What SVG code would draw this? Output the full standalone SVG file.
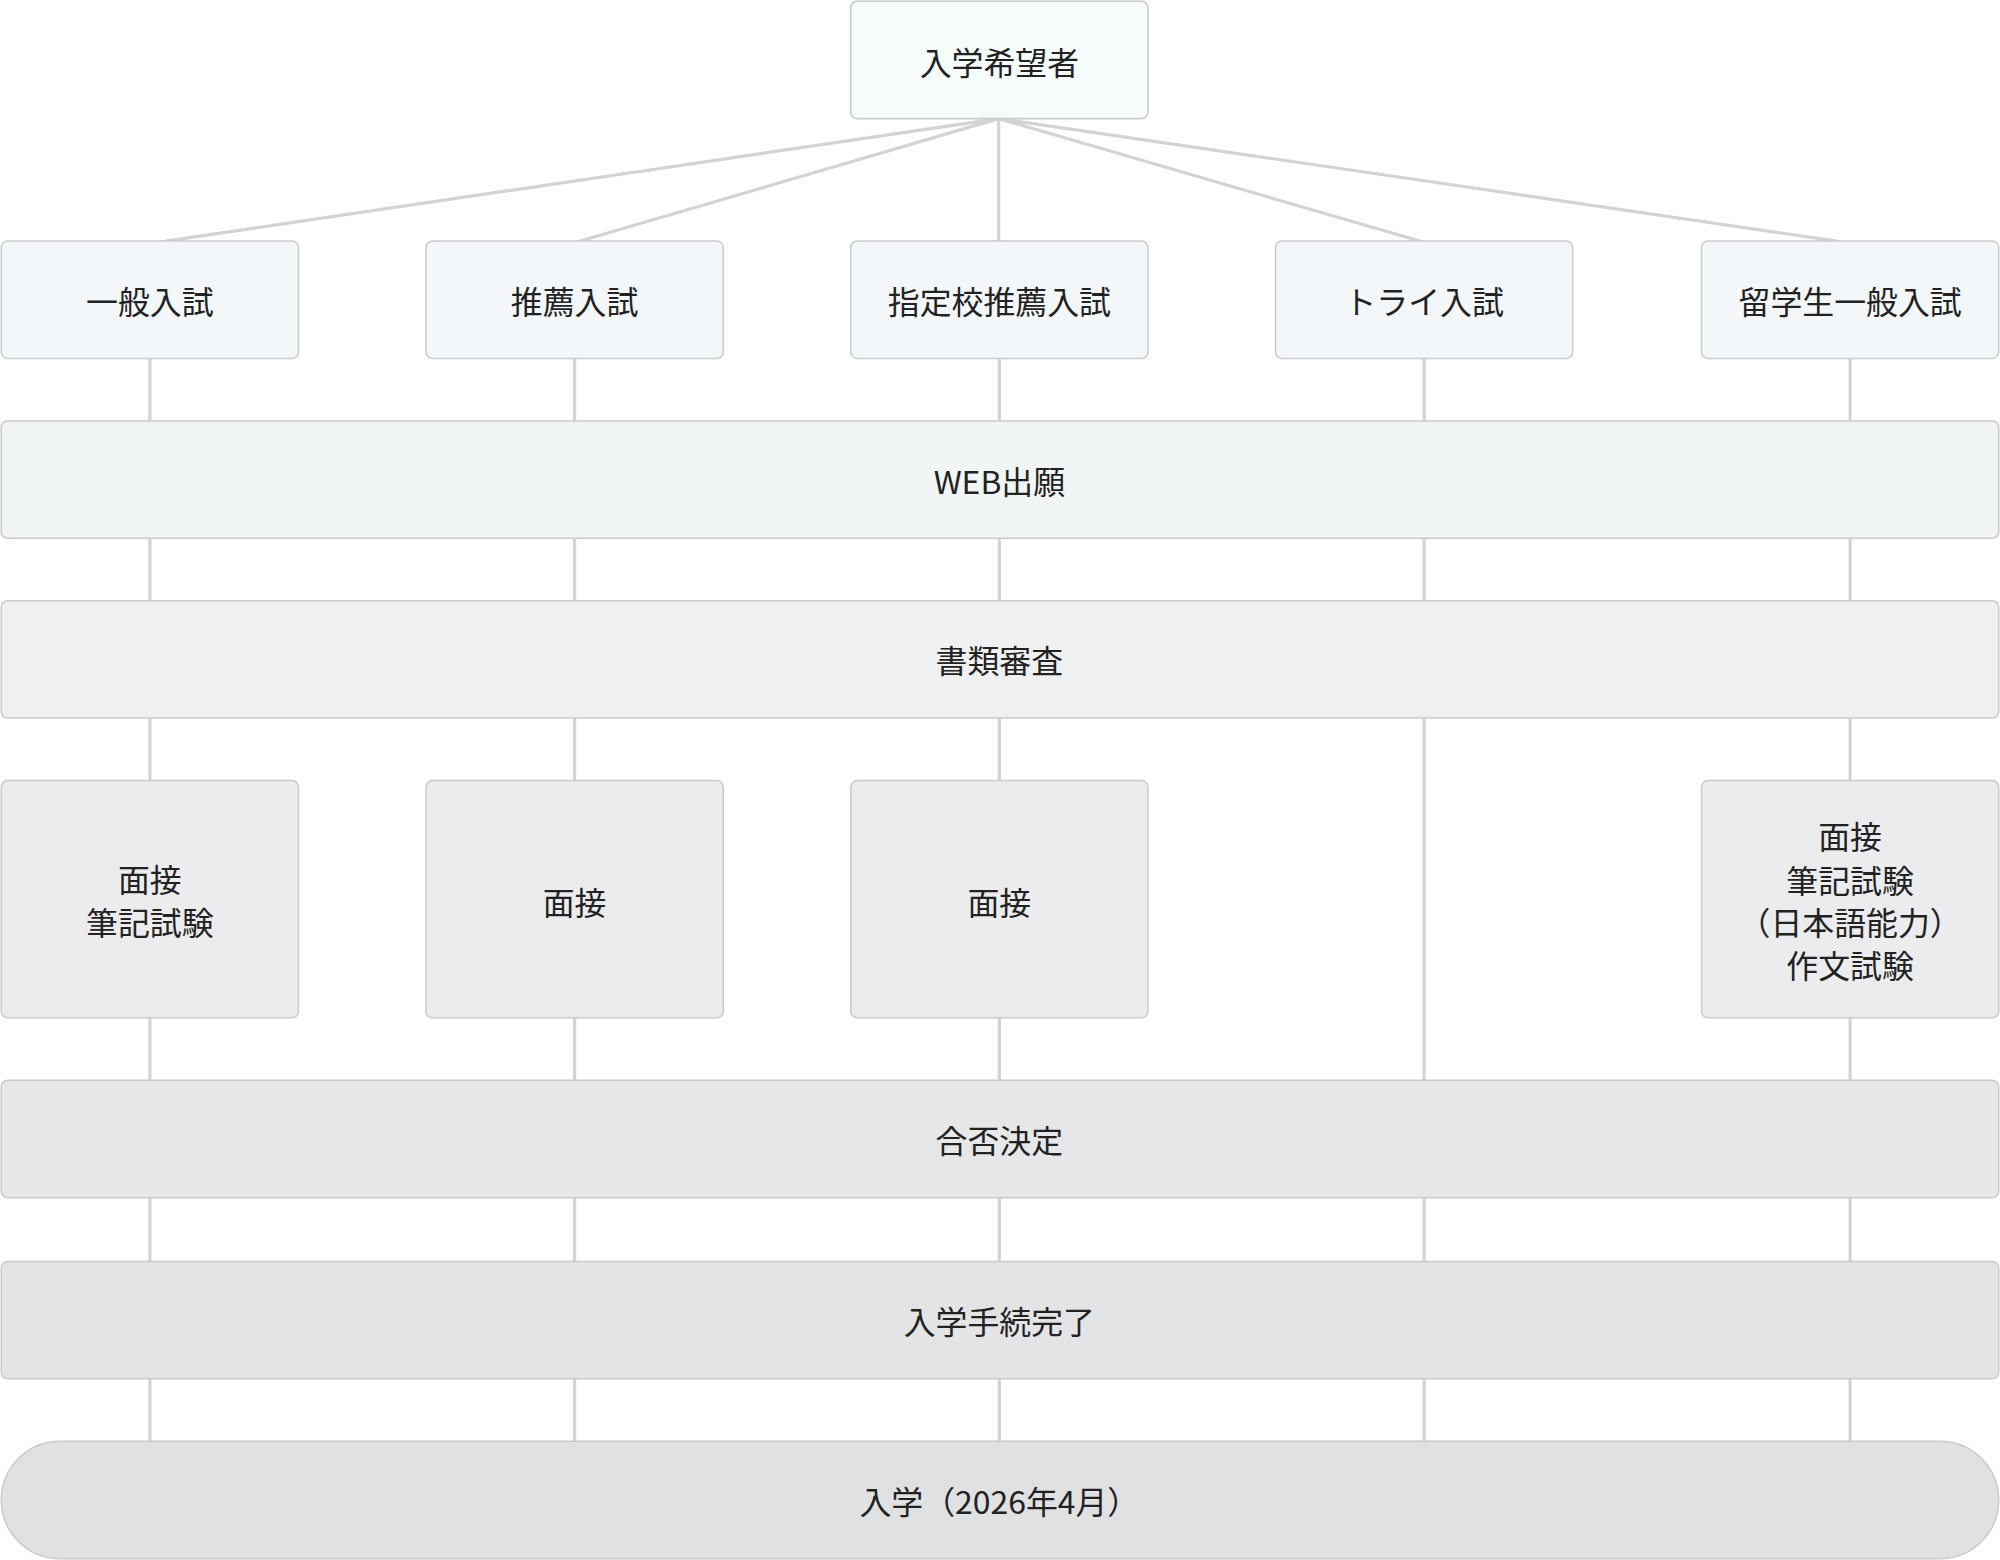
<svg xmlns="http://www.w3.org/2000/svg" width="2000" height="1560" viewBox="0 0 2000 1560">
<style>
.b{stroke:#c9cacc;stroke-width:1.2}
.t{font-family:"Noto Sans CJK JP","Noto Sans",sans-serif;font-size:25px;fill:#222;text-anchor:middle;dominant-baseline:central}
.c{stroke:#d2d3d5;stroke-width:2.5;fill:none}
</style>
<rect width="2000" height="1560" fill="#fff"/>
<g transform="scale(1.2755)">
<g id="connectors">
<path class="c" d="M783,93L130,189M783,93L455,189M783,93V189M783,93L1113,189M783,93L1440,189"/>
<path class="c" d="M117.5,281V330M450.5,281V330M783.5,281V330M1116.5,281V330M1450.5,281V330"/>
<path class="c" d="M117.5,422V471M450.5,422V471M783.5,422V471M1116.5,422V471M1450.5,422V471"/>
<path class="c" d="M117.5,563V612M450.5,563V612M783.5,563V612M1116.5,563V847M1450.5,563V612"/>
<path class="c" d="M117.5,798V847M450.5,798V847M783.5,798V847M1450.5,798V847"/>
<path class="c" d="M117.5,939V989M450.5,939V989M783.5,939V989M1116.5,939V989M1450.5,939V989"/>
<path class="c" d="M117.5,1081V1130M450.5,1081V1130M783.5,1081V1130M1116.5,1081V1130M1450.5,1081V1130"/>
</g>
<g id="n0"><rect class="b" x="667" y="1" width="233" height="92" rx="5" fill="#f6fbfc"/><text class="t" x="783.5" y="48">入学希望者</text></g>
<g id="n1"><rect class="b" x="1" y="189" width="233" height="92" rx="5" fill="#f4f7f9"/><text class="t" x="117.5" y="235">一般入試</text></g>
<g id="n2"><rect class="b" x="334" y="189" width="233" height="92" rx="5" fill="#f4f7f9"/><text class="t" x="450.5" y="235">推薦入試</text></g>
<g id="n3"><rect class="b" x="667" y="189" width="233" height="92" rx="5" fill="#f4f7f9"/><text class="t" x="783.5" y="235">指定校推薦入試</text></g>
<g id="n4"><rect class="b" x="1000" y="189" width="233" height="92" rx="5" fill="#f4f7f9"/><text class="t" x="1116.5" y="235">トライ入試</text></g>
<g id="n5"><rect class="b" x="1334" y="189" width="233" height="92" rx="5" fill="#f4f7f9"/><text class="t" x="1450.5" y="235">留学生一般入試</text></g>
<g id="n6"><rect class="b" x="1" y="330" width="1566" height="92" rx="5" fill="#f2f5f6"/><text class="t" x="783.5" y="376">WEB出願</text></g>
<g id="n7"><rect class="b" x="1" y="471" width="1566" height="92" rx="5" fill="#eff0f2"/><text class="t" x="783.5" y="517">書類審査</text></g>
<g id="n8"><rect class="b" x="1" y="612" width="233" height="186" rx="5" fill="#ececee"/><text class="t" x="117.5" y="688">面接</text><text class="t" x="117.5" y="722">筆記試験</text></g>
<g id="n9"><rect class="b" x="334" y="612" width="233" height="186" rx="5" fill="#ececee"/><text class="t" x="450.5" y="706">面接</text></g>
<g id="n10"><rect class="b" x="667" y="612" width="233" height="186" rx="5" fill="#ececee"/><text class="t" x="783.5" y="706">面接</text></g>
<g id="n11"><rect class="b" x="1334" y="612" width="233" height="186" rx="5" fill="#ececee"/><text class="t" x="1450.5" y="655">面接</text><text class="t" x="1450.5" y="689">筆記試験</text><text class="t" x="1450.5" y="722">（日本語能力）</text><text class="t" x="1450.5" y="756">作文試験</text></g>
<g id="n12"><rect class="b" x="1" y="847" width="1566" height="92" rx="5" fill="#e6e7e9"/><text class="t" x="783.5" y="893">合否決定</text></g>
<g id="n13"><rect class="b" x="1" y="989" width="1566" height="92" rx="5" fill="#e3e4e6"/><text class="t" x="783.5" y="1035">入学手続完了</text></g>
<g id="n14"><rect class="b" x="1" y="1130" width="1566" height="92" rx="46" fill="#e0e1e3"/><text class="t" x="783.5" y="1176">入学（2026年4月）</text></g>
</g>
</svg>
